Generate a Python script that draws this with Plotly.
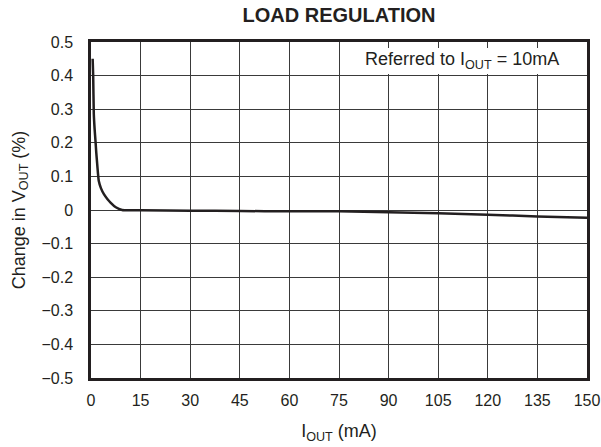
import plotly.graph_objects as go

# Data
iout_ma = [0.5, 0.66, 0.85, 1.1, 1.36, 1.6, 1.87, 2.1, 2.36, 3.0, 3.9, 5.0, 5.9, 7.5, 9.4, 12, 15, 30, 45, 60, 75, 90, 105, 120, 135, 150]
dvout_pct = [0.45, 0.40, 0.285, 0.24, 0.205, 0.17, 0.137, 0.11, 0.086, 0.065, 0.047, 0.032, 0.022, 0.008, 0.0, -0.001, -0.001, -0.002, -0.003, -0.004, -0.004, -0.007, -0.010, -0.014, -0.019, -0.023]

x_ticks = [0, 15, 30, 45, 60, 75, 90, 105, 120, 135, 150]
y_ticks = [0.5, 0.4, 0.3, 0.2, 0.1, 0, -0.1, -0.2, -0.3, -0.4, -0.5]
y_tick_text = ["0.5", "0.4", "0.3", "0.2", "0.1", "0", "\u22120.1", "\u22120.2", "\u22120.3", "\u22120.4", "\u22120.5"]

font_family = "Liberation Sans, Arial, sans-serif"

fig = go.Figure()
fig.add_trace(go.Scatter(x=iout_ma, y=dvout_pct, mode="lines",
                         line=dict(color="#231f20", width=2.5, shape="spline", smoothing=0.6),
                         showlegend=False, hoverinfo="skip"))

fig.update_layout(
    width=601, height=447,
    margin=dict(l=91, r=14, t=42, b=69),
    paper_bgcolor="white", plot_bgcolor="white",
    font=dict(family=font_family, size=16, color="#231f20"),
    title=dict(text="<b>LOAD REGULATION</b>", x=0.5, xref="paper", y=1 - 14.5 / 447, yref="container",
               xanchor="center", yanchor="middle", font=dict(size=20, family=font_family),
               pad=dict(t=0, b=0)),
    xaxis=dict(range=[0, 150], tickvals=x_ticks, showgrid=True, gridcolor="#3a3a3a", gridwidth=1,
               zeroline=False, showline=True, linecolor="#231f20", linewidth=2.5, mirror=True,
               ticks="", ticklabelstandoff=6, automargin=False,
               title=dict(text="I<sub>OUT</sub> (mA)", standoff=17, font=dict(size=18))),
    yaxis=dict(range=[-0.5, 0.5], tickvals=y_ticks, ticktext=y_tick_text, showgrid=True,
               gridcolor="#3a3a3a", gridwidth=1, zeroline=False, showline=True,
               linecolor="#231f20", linewidth=2.5, mirror=True, ticks="", ticklabelstandoff=12,
               automargin=False,
               title=dict(text="Change in V<sub>OUT</sub>\u00a0(%)", standoff=12, font=dict(size=18))),
)

fig.add_shape(type="rect", xref="paper", yref="paper", x0=0.526, x1=0.997, y0=0.905, y1=0.982,
              fillcolor="white", line=dict(width=0), layer="above")
fig.add_annotation(xref="paper", yref="paper", x=0.748, y=0.946, text="Referred to I<sub>OUT</sub> = 10mA",
                   showarrow=False, xanchor="center", yanchor="middle", font=dict(size=18))

# remove the default page margin so the 601x447 figure fills the window exactly
fig.write_html("out.html", config={"displayModeBar": False},
               post_script="document.body.style.margin='0';document.body.style.overflow='hidden';")
